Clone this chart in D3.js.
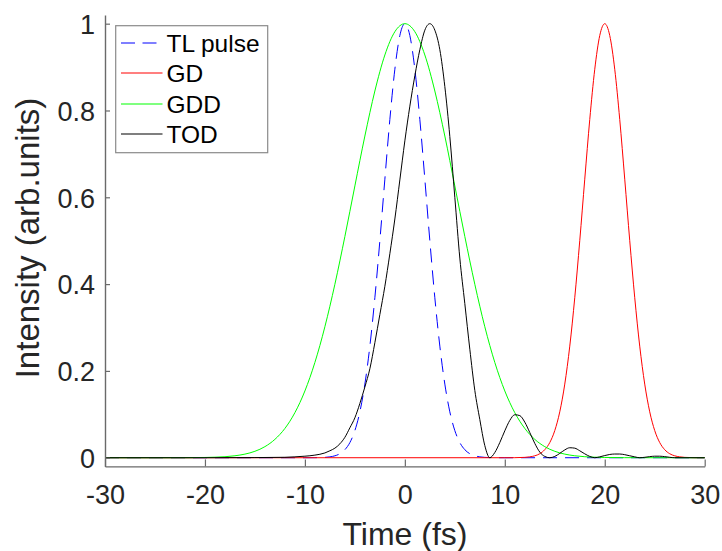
<!DOCTYPE html>
<html>
<head>
<meta charset="utf-8">
<script src="https://cdn.jsdelivr.net/npm/d3@7"></script>
<style>
  html, body { margin: 0; padding: 0; background: #fff; }
  svg { display: block; font-family: "Liberation Sans", Arial, Helvetica, sans-serif; }
</style>
</head>
<body>
<svg id="chart" width="722" height="551"></svg>
<script>
// ---- data ----
const xTicks = [-30, -20, -10, 0, 10, 20, 30];
const yTicks = [0, 0.2, 0.4, 0.6, 0.8, 1];
const yTickLabels = ["0", "0.2", "0.4", "0.6", "0.8", "1"];
const xTickLabels = ["-30", "-20", "-10", "0", "10", "20", "30"];

const seriesNames = ["TL pulse", "GD", "GDD", "TOD"];
const seriesColors = ["#0000ff", "#ff0000", "#00ff00", "#000000"];

const tlTime = [-30,-10,-9,-8,-7.5,-7,-6.5,-6,-5.5,-5,-4.5,-4,-3.5,-3,-2.5,-2,-1.5,-1,-0.5,0,0.5,1,1.5,2,2.5,3,3.5,4,4.5,5,5.5,6,6.5,7,7.5,8,9,10,30];
const tlValue = [0,0,0.0001,0.0008,0.0020,0.0044,0.0092,0.0185,0.0349,0.0625,0.1058,0.1696,0.2571,0.3686,0.5000,0.6417,0.7792,0.8950,0.9727,1,0.9727,0.8950,0.7792,0.6417,0.5000,0.3686,0.2571,0.1696,0.1058,0.0625,0.0349,0.0185,0.0092,0.0044,0.0020,0.0008,0.0001,0,0];

const gdTime = [-30,10,11,12,12.5,13,13.5,14,14.5,15,15.5,16,16.5,17,17.5,18,18.5,19,19.5,20,20.5,21,21.5,22,22.5,23,23.5,24,24.5,25,25.5,26,26.5,27,27.5,28,29,30];
const gdValue = [0,0,0.0001,0.0008,0.0020,0.0044,0.0092,0.0185,0.0349,0.0625,0.1058,0.1696,0.2571,0.3686,0.5000,0.6417,0.7792,0.8950,0.9727,1,0.9727,0.8950,0.7792,0.6417,0.5000,0.3686,0.2571,0.1696,0.1058,0.0625,0.0349,0.0185,0.0092,0.0044,0.0020,0.0008,0.0001,0];

const gddTime = [-30,-25,-22,-20,-19,-18,-17,-16,-15,-14,-13,-12,-11,-10,-9,-8,-7,-6,-5,-4,-3,-2,-1,0,1,2,3,4,5,6,7,8,9,10,11,12,13,14,15,16,17,18,19,20,22,25,30];
const gddValue = [0,0,0.0001,0.0006,0.0012,0.0023,0.0045,0.0083,0.0148,0.0255,0.0423,0.0675,0.1038,0.1538,0.2195,0.3018,0.3996,0.5097,0.6262,0.7411,0.8449,0.9279,0.9815,1,0.9815,0.9279,0.8449,0.7411,0.6262,0.5097,0.3996,0.3018,0.2195,0.1538,0.1038,0.0675,0.0423,0.0255,0.0148,0.0083,0.0045,0.0023,0.0012,0.0006,0.0001,0,0];

const todTime = [-30,-20,-15,-12,-11,-10,-9,-8,-7.5,-7,-6.5,-6,-5.5,-5,-4.5,-4,-3.5,-3,-2.5,-2,-1.5,-1,-0.5,0,0.5,1,1.5,2,2.5,3,3.5,4,4.5,5,5.5,6,6.5,7,7.5,8,8.5,9,9.5,10,10.5,11,11.5,12,12.5,13,13.5,14,14.5,15,15.5,16,16.5,17,17.5,18,18.5,19,19.5,20,20.5,21,21.5,22,22.5,23,23.5,24,24.5,25,25.5,26,26.5,27,30];
const todValue = [0,0,0.0003,0.001,0.002,0.0035,0.006,0.011,0.016,0.022,0.032,0.047,0.069,0.092,0.125,0.163,0.205,0.265,0.33,0.395,0.47,0.55,0.64,0.73,0.81,0.88,0.94,0.985,1,0.985,0.94,0.855,0.74,0.60,0.46,0.355,0.25,0.155,0.088,0.028,0,0.012,0.035,0.062,0.086,0.099,0.097,0.082,0.058,0.033,0.013,0.003,0,0.003,0.010,0.018,0.023,0.022,0.016,0.009,0.003,0,0.002,0.005,0.0075,0.0085,0.0085,0.007,0.0045,0.002,0,0.001,0.0025,0.0035,0.0035,0.0025,0.001,0,0];

const seriesTimes = [tlTime, gdTime, gddTime, todTime];
const seriesValues = [tlValue, gdValue, gddValue, todValue];

// ---- drawing ----
const svg = d3.select("#chart");
const x = d3.scaleLinear().domain([-30, 30]).range([105, 704.7]);
const y = d3.scaleLinear().domain([-0.02, 1.02]).range([466.4, 15]);

const textColor = "#262626";
const axisColor = "#6a6a6a";

// curves
const line = d3.line()
  .x(d => x(d[0]))
  .y(d => y(d[1]))
  .curve(d3.curveMonotoneX);

seriesNames.forEach((name, i) => {
  const pts = seriesTimes[i].map((t, j) => [t, seriesValues[i][j]]);
  const p = svg.append("path")
    .datum(pts)
    .attr("fill", "none")
    .style("stroke", seriesColors[i])
    .style("stroke-width", "1px")
    .attr("d", line);
  if (i === 0) p.style("stroke-dasharray", "14,8");
});

// axes
const xAxis = d3.axisBottom(x).tickValues(xTicks).tickSizeInner(-7).tickSizeOuter(0)
  .tickFormat((d, i) => xTickLabels[i]);
const gx = svg.append("g").attr("transform", "translate(0,466.4)").call(xAxis);
gx.select(".domain").attr("stroke", axisColor).attr("stroke-width", 1.4);
gx.selectAll(".tick line").attr("stroke", axisColor).attr("stroke-width", 1.2);
gx.selectAll(".tick text")
  .attr("fill", textColor)
  .attr("font-size", "27px")
  .attr("font-family", "Liberation Sans, Arial, sans-serif")
  .attr("y", 38).attr("dy", 0);

const yAxis = d3.axisLeft(y).tickValues(yTicks).tickSizeInner(-5).tickSizeOuter(0)
  .tickFormat((d, i) => yTickLabels[i]);
const gy = svg.append("g").attr("transform", "translate(105,0)").call(yAxis);
gy.select(".domain").attr("stroke", axisColor).attr("stroke-width", 1.4);
gy.selectAll(".tick line").attr("stroke", axisColor).attr("stroke-width", 1.2);
gy.selectAll(".tick text")
  .attr("fill", textColor)
  .attr("font-size", "27px")
  .attr("font-family", "Liberation Sans, Arial, sans-serif")
  .attr("x", -10).attr("dy", "0.36em");

// axis labels
svg.append("text")
  .attr("x", 405).attr("y", 545)
  .attr("text-anchor", "middle")
  .attr("fill", textColor)
  .attr("font-size", "32px")
  .text("Time (fs)");

svg.append("text")
  .attr("transform", "translate(38.5,238) rotate(-90)")
  .attr("text-anchor", "middle")
  .attr("fill", textColor)
  .attr("font-size", "33px")
  .text("Intensity (arb.units)");

// legend
const lg = svg.append("g");
lg.append("rect")
  .attr("x", 115.7).attr("y", 25.7)
  .attr("width", 152).attr("height", 127)
  .attr("fill", "#fff")
  .attr("stroke", "#8a8a8a")
  .attr("stroke-width", 1.2);
const legendY = [43, 73, 104, 134];
const entries = lg.selectAll("g.entry")
  .data(seriesNames)
  .enter().append("g").attr("class", "entry");
entries.append("path")
  .attr("d", (d, i) => `M121,${legendY[i]}H162.5`)
  .attr("fill", "none")
  .style("stroke", (d, i) => seriesColors[i])
  .style("stroke-width", "1.2px")
  .style("stroke-dasharray", (d, i) => i === 0 ? "14,7.5" : "none");
entries.append("text")
  .attr("x", 166.5).attr("y", (d, i) => legendY[i] + 9)
  .attr("fill", "#000")
  .attr("font-size", "24.5px")
  .text(d => d);
</script>
</body>
</html>
